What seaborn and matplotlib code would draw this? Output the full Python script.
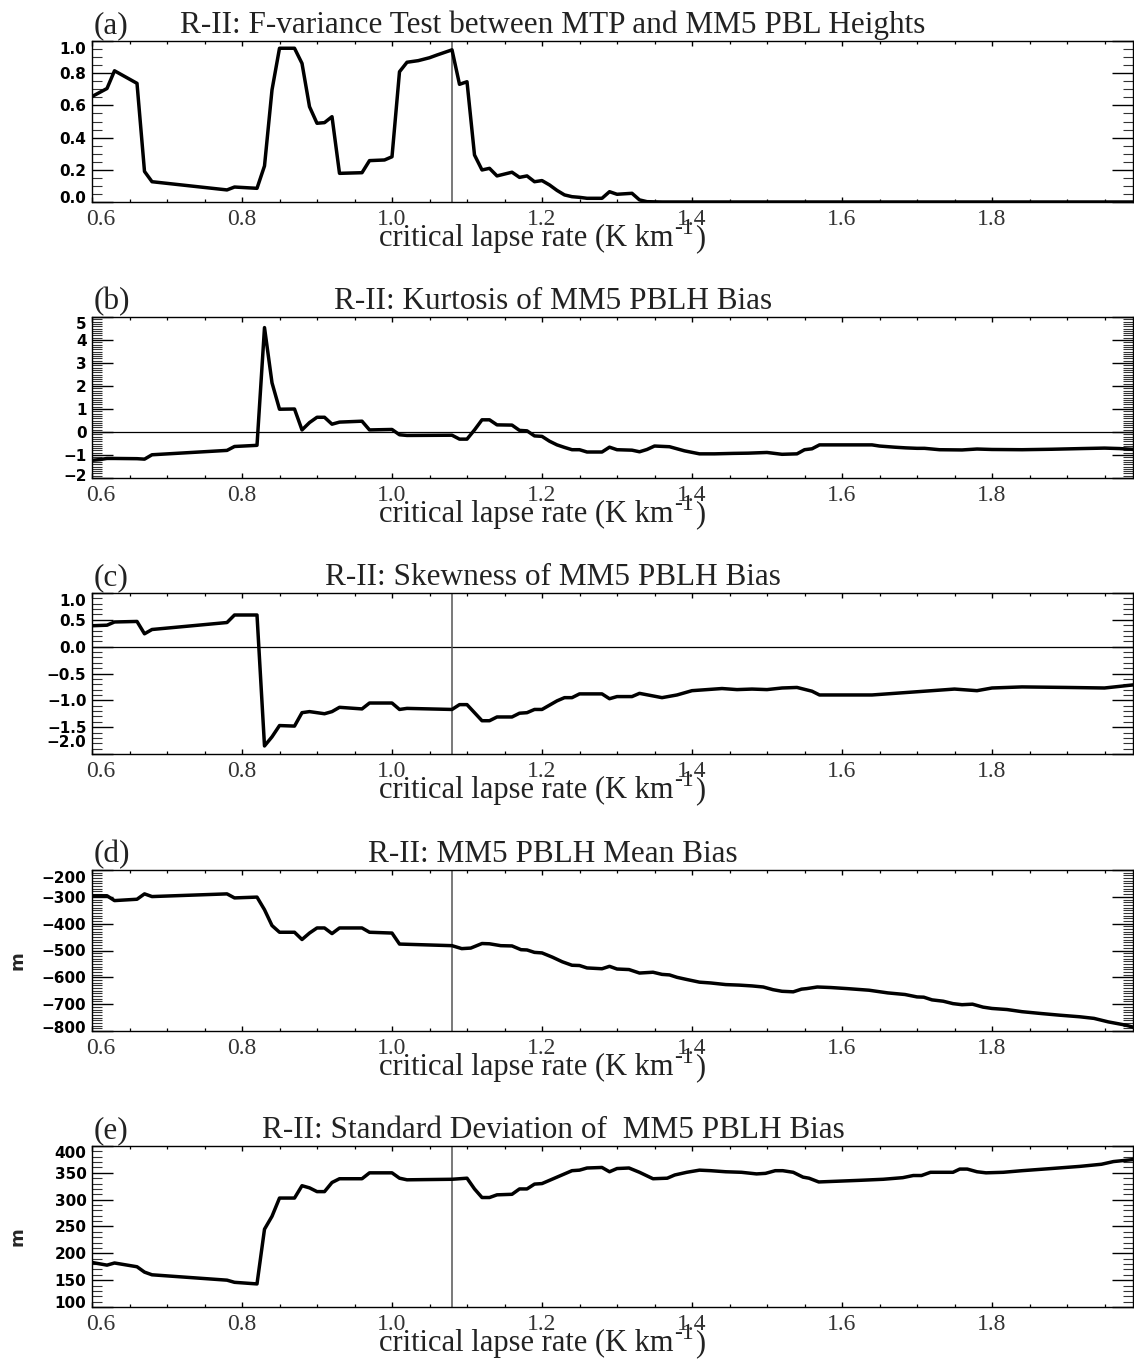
import matplotlib
matplotlib.use('Agg')
import matplotlib.pyplot as plt
import seaborn as sns
import pandas as pd
from matplotlib.ticker import MultipleLocator, FuncFormatter
from matplotlib.transforms import ScaledTranslation

sns.set_style('white')
plt.rcParams['font.family'] = ['DejaVu Sans']

# ---------------- data ----------------
xa = [0.60, 0.62, 0.63, 0.66, 0.67, 0.68, 0.78, 0.79, 0.82, 0.83, 0.84, 0.85,
      0.87, 0.88, 0.89, 0.90, 0.91, 0.92, 0.93, 0.96, 0.97, 0.99, 1.00, 1.01,
      1.02, 1.035, 1.05, 1.06, 1.08, 1.09, 1.10, 1.11, 1.12, 1.13, 1.14, 1.16,
      1.17, 1.18, 1.19, 1.20, 1.21, 1.22, 1.23, 1.24, 1.25, 1.26, 1.28, 1.29,
      1.30, 1.32, 1.33, 1.34, 1.36, 1.60, 1.99]
ya = [0.655, 0.705, 0.815, 0.737, 0.19, 0.126, 0.075, 0.093, 0.085, 0.224, 0.696, 0.955,
      0.955, 0.861, 0.592, 0.489, 0.493, 0.530, 0.178, 0.182, 0.257, 0.261, 0.281, 0.809,
      0.868, 0.878, 0.896, 0.913, 0.945, 0.731, 0.747, 0.292, 0.199, 0.209, 0.162, 0.185,
      0.153, 0.162, 0.126, 0.133, 0.106, 0.072, 0.044, 0.033, 0.029, 0.023, 0.023, 0.064,
      0.048, 0.054, 0.013, 0.002, 0.0, 0.0, 0.0]

xb = [0.60, 0.61, 0.62, 0.63, 0.66, 0.67, 0.68, 0.78, 0.79, 0.82, 0.83, 0.84,
      0.85, 0.87, 0.88, 0.89, 0.90, 0.91, 0.92, 0.93, 0.96, 0.97, 1.00, 1.01,
      1.02, 1.08, 1.09, 1.10, 1.11, 1.12, 1.13, 1.14, 1.16, 1.17, 1.18, 1.19,
      1.20, 1.21, 1.22, 1.23, 1.24, 1.25, 1.26, 1.28, 1.29, 1.30, 1.32, 1.33,
      1.34, 1.35, 1.37, 1.39, 1.41, 1.43, 1.455, 1.475, 1.50, 1.52, 1.54, 1.55,
      1.56, 1.57, 1.64, 1.65, 1.67, 1.685, 1.70, 1.71, 1.73, 1.76, 1.78, 1.80,
      1.84, 1.88, 1.92, 1.95, 1.97, 1.99]
yb = [-1.23, -1.20, -1.15, -1.15, -1.16, -1.18, -0.99, -0.80, -0.63, -0.58, 4.54, 2.14,
      0.99, 1.00, 0.09, 0.41, 0.64, 0.64, 0.34, 0.43, 0.47, 0.09, 0.11, -0.12,
      -0.15, -0.14, -0.31, -0.31, 0.09, 0.53, 0.53, 0.31, 0.30, 0.07, 0.05, -0.17,
      -0.19, -0.40, -0.56, -0.67, -0.77, -0.77, -0.87, -0.87, -0.66, -0.77, -0.79, -0.86,
      -0.76, -0.61, -0.64, -0.82, -0.95, -0.95, -0.93, -0.92, -0.89, -0.97, -0.95, -0.77,
      -0.73, -0.56, -0.56, -0.61, -0.66, -0.69, -0.71, -0.71, -0.77, -0.78, -0.74, -0.76,
      -0.77, -0.75, -0.72, -0.70, -0.72, -0.76]

xc = [0.60, 0.62, 0.63, 0.66, 0.67, 0.68, 0.78, 0.79, 0.82, 0.83, 0.84, 0.85,
      0.87, 0.88, 0.89, 0.91, 0.92, 0.93, 0.96, 0.97, 1.00, 1.01, 1.02, 1.08,
      1.09, 1.10, 1.12, 1.13, 1.14, 1.16, 1.17, 1.18, 1.19, 1.20, 1.21, 1.22,
      1.23, 1.24, 1.25, 1.28, 1.29, 1.30, 1.32, 1.33, 1.36, 1.38, 1.40, 1.44,
      1.46, 1.48, 1.50, 1.52, 1.54, 1.56, 1.57, 1.64, 1.66, 1.70, 1.72, 1.75,
      1.78, 1.80, 1.84, 1.90, 1.95, 1.99]
yc = [0.39, 0.40, 0.46, 0.47, 0.24, 0.32, 0.45, 0.59, 0.59, -1.85, -1.68, -1.47,
      -1.48, -1.23, -1.21, -1.25, -1.21, -1.13, -1.16, -1.05, -1.05, -1.17, -1.15, -1.17,
      -1.08, -1.08, -1.38, -1.38, -1.31, -1.31, -1.24, -1.23, -1.17, -1.17, -1.09, -1.01,
      -0.95, -0.95, -0.88, -0.88, -0.97, -0.93, -0.93, -0.87, -0.95, -0.90, -0.82, -0.78,
      -0.80, -0.79, -0.80, -0.77, -0.76, -0.83, -0.90, -0.90, -0.88, -0.84, -0.82, -0.79,
      -0.82, -0.77, -0.75, -0.76, -0.77, -0.71]

xd = [0.60, 0.62, 0.63, 0.66, 0.67, 0.68, 0.78, 0.79, 0.82, 0.83, 0.84, 0.85,
      0.87, 0.88, 0.89, 0.90, 0.91, 0.92, 0.93, 0.96, 0.97, 1.00, 1.01, 1.08,
      1.093, 1.105, 1.12, 1.13, 1.145, 1.16, 1.172, 1.18, 1.19, 1.20, 1.214, 1.227,
      1.24, 1.25, 1.26, 1.28, 1.29, 1.30, 1.316, 1.33, 1.348, 1.36, 1.37, 1.38,
      1.393, 1.41, 1.425, 1.445, 1.463, 1.48, 1.495, 1.508, 1.52, 1.535, 1.546, 1.553,
      1.567, 1.585, 1.607, 1.636, 1.661, 1.684, 1.70, 1.709, 1.72, 1.735, 1.748, 1.76,
      1.774, 1.788, 1.80, 1.82, 1.84, 1.866, 1.89, 1.917, 1.936, 1.955, 1.978, 1.99]
yd = [-296, -296, -314, -309, -289, -299, -289, -304, -301, -348, -407, -432,
      -432, -459, -435, -416, -416, -437, -416, -416, -432, -435, -476, -482,
      -493, -491, -474, -475, -482, -483, -497, -498, -507, -509, -525, -542,
      -555, -556, -565, -568, -559, -569, -571, -584, -581, -589, -591, -600,
      -608, -618, -621, -627, -629, -632, -636, -646, -652, -654, -644, -642,
      -636, -638, -642, -648, -658, -664, -673, -674, -684, -689, -698, -702,
      -700, -711, -716, -720, -728, -735, -741, -747, -753, -766, -778, -787]

xe = [0.60, 0.62, 0.63, 0.66, 0.67, 0.68, 0.78, 0.79, 0.82, 0.83, 0.84, 0.85,
      0.87, 0.88, 0.89, 0.90, 0.91, 0.92, 0.93, 0.96, 0.97, 1.00, 1.01, 1.02,
      1.08, 1.10, 1.11, 1.12, 1.13, 1.14, 1.16, 1.17, 1.18, 1.19, 1.20, 1.21,
      1.22, 1.24, 1.25, 1.26, 1.28, 1.29, 1.30, 1.316, 1.33, 1.348, 1.367, 1.377,
      1.393, 1.41, 1.425, 1.445, 1.466, 1.486, 1.498, 1.511, 1.521, 1.535, 1.548, 1.556,
      1.569, 1.623, 1.655, 1.681, 1.695, 1.706, 1.718, 1.748, 1.757, 1.767, 1.78, 1.792,
      1.815, 1.84, 1.879, 1.917, 1.946, 1.962, 1.99]
ye = [183, 178, 182, 175, 165, 160, 150, 146, 143, 245, 269, 303,
      303, 326, 322, 315, 315, 332, 339, 339, 350, 350, 340, 337,
      338, 340, 320, 304, 304, 309, 310, 320, 320, 329, 330, 336,
      342, 354, 355, 359, 360, 352, 358, 359, 351, 339, 340, 346,
      351, 355, 354, 352, 351, 348, 349, 354, 354, 351, 342, 340,
      333, 336, 338, 341, 345, 345, 351, 351, 357, 357, 352, 350,
      351, 354, 358, 362, 366, 371, 375]

tags = ['(a)', '(b)', '(c)', '(d)', '(e)']
titles = ['R-II: F-variance Test between MTP and MM5 PBL Heights',
          'R-II: Kurtosis of MM5 PBLH Bias',
          'R-II: Skewness of MM5 PBLH Bias',
          'R-II: MM5 PBLH Mean Bias',
          'R-II: Standard Deviation of  MM5 PBLH Bias']
ylims = [(0.0, 1.0), (-2.0, 5.0), (-2.0, 1.0), (-800, -200), (100, 400)]
ymajor = [0.2, 1.0, 0.5, 100, 50]
yminor = [0.05, 0.1, 0.1, 10, 10]
yfmt = ['{:.1f}', '{:.0f}', '{:.1f}', '{:.0f}', '{:.0f}']
ylabels = ['', '', '', 'm', 'm']
zero_line = [False, True, True, False, False]
vert_line = [True, False, True, True, True]
vline_x = 1.08
xlabel_main = 'critical lapse rate (K km'
xlabel_sup = '-1'
xlabel_end = ')'
series = [(xa, ya), (xb, yb), (xc, yc), (xd, yd), (xe, ye)]

# ---------------- layout ----------------
W, H = 1134, 1361
fig = plt.figure(figsize=(W / 100, H / 100), dpi=100)
fig.patch.set_facecolor('white')
tops = [41, 317, 593, 870, 1146]
ph = 161
left_px, right_px = 92, 1133
serif = 'Liberation Serif'
txtcol = '#222222'
FS = 22.5
top_shift = [7, 6, 7, 7, 6]      # px the top y label sits below the top edge
bot_shift = [5, 3, 13, 4, 5]     # px the bottom y label sits above the bottom edge
XL_OFF = 44


def shift(txt, dx_px, dy_px):
    txt.set_transform(txt.get_transform() +
                      ScaledTranslation(dx_px / 100, dy_px / 100, fig.dpi_scale_trans))


parts = []
for i in range(5):
    top = tops[i]
    ax = fig.add_axes([left_px / W, 1 - (top + ph) / H, (right_px - left_px) / W, ph / H])
    ax.set_facecolor('white')
    xs, ys = series[i]
    df = pd.DataFrame({'x': xs, 'y': ys})
    if zero_line[i]:
        ax.axhline(0, color='black', lw=0.9, zorder=1)
    if vert_line[i]:
        ax.axvline(vline_x, color='#555555', lw=1.1, zorder=1)
    sns.lineplot(data=df, x='x', y='y', ax=ax, color='black', lw=2.5,
                 sort=False, estimator=None, zorder=3)
    ymin, ymax = ylims[i]
    ax.set_xlim(0.6, 1.988)
    ax.set_ylim(ymin, ymax)
    ax.set_xlabel('')
    ax.set_ylabel('')
    ax.xaxis.set_major_locator(MultipleLocator(0.2))
    ax.xaxis.set_minor_locator(MultipleLocator(0.05))
    ax.yaxis.set_major_locator(MultipleLocator(ymajor[i]))
    ax.yaxis.set_minor_locator(MultipleLocator(yminor[i]))
    ax.xaxis.set_major_formatter(FuncFormatter(lambda v, p: f'{v:.1f}'))
    fmt = yfmt[i]
    ax.yaxis.set_major_formatter(FuncFormatter(
        lambda v, p, fmt=fmt: fmt.format(v).replace('-', '\u2212')))
    for s in ax.spines.values():
        s.set_color('black')
        s.set_linewidth(1.0)
    ax.tick_params(axis='x', which='major', direction='in', length=3.5, width=1.0,
                   top=True, bottom=True, labelsize=17, pad=5,
                   labelfontfamily=serif, labelcolor='#333333', color='black')
    ax.tick_params(axis='x', which='minor', direction='in', length=2.0, width=0.9,
                   top=True, bottom=True, color='black')
    ax.tick_params(axis='y', which='major', direction='in', length=15, width=1.0,
                   left=True, right=True, labelsize=11, pad=4, color='black',
                   labelcolor='black')
    ax.tick_params(axis='y', which='minor', direction='in', length=7.2, width=0.8,
                   left=True, right=True, color='#333333')

    # y tick labels: bold, edge labels pulled inside the frame
    ylocs = ax.yaxis.get_majorticklocs()
    yticks = ax.yaxis.get_major_ticks(len(ylocs))
    span = ymax - ymin
    for loc, tk in zip(ylocs, yticks):
        tk.label1.set_fontweight('bold')
        if abs(loc - ymax) < 1e-6 * span:
            shift(tk.label1, 0, -top_shift[i])
        elif abs(loc - ymin) < 1e-6 * span:
            shift(tk.label1, 0, bot_shift[i])
    xlocs = ax.xaxis.get_majorticklocs()
    xticks = ax.xaxis.get_major_ticks(len(xlocs))
    for loc, tk in zip(xlocs, xticks):
        if abs(loc - 0.6) < 1e-6:
            shift(tk.label1, 9, 0)

    base = 1 - (top - 8) / H
    fig.text(94 / W, base, tags[i], ha='left', va='baseline', fontsize=FS,
             family=serif, color=txtcol)
    fig.text(553 / W, base, titles[i], ha='center', va='baseline', fontsize=FS,
             family=serif, color=txtcol)
    # x-axis label built from three pieces so the exponent stays large
    base_y = 1 - (top + ph + XL_OFF) / H
    t1 = fig.text(379 / W, base_y, xlabel_main, ha='left', va='baseline',
                  fontsize=22, family=serif, color=txtcol)
    t2 = fig.text(0, 0, xlabel_sup, ha='left', va='baseline', fontsize=17,
                  family=serif, color=txtcol)
    t3 = fig.text(0, 0, xlabel_end, ha='left', va='baseline', fontsize=22,
                  family=serif, color=txtcol)
    if ylabels[i]:
        fig.text(17 / W, 1 - (top + ph / 2 + 10) / H, ylabels[i], rotation=90,
                 ha='center', va='center', fontsize=13, fontweight='bold')
    parts.append((t1, t2, t3, base_y))

# place exponent and closing parenthesis after the main label text
fig.canvas.draw()
renderer = fig.canvas.get_renderer()
for t1, t2, t3, base_y in parts:
    bb = t1.get_window_extent(renderer)
    t2.set_position((bb.x1 / W + 1 / W, base_y + 12 / H))
fig.canvas.draw()
for t1, t2, t3, base_y in parts:
    bb2 = t2.get_window_extent(renderer)
    t3.set_position((bb2.x1 / W + 1 / W, base_y))

fig.savefig('out.png', dpi=100, facecolor='white')
